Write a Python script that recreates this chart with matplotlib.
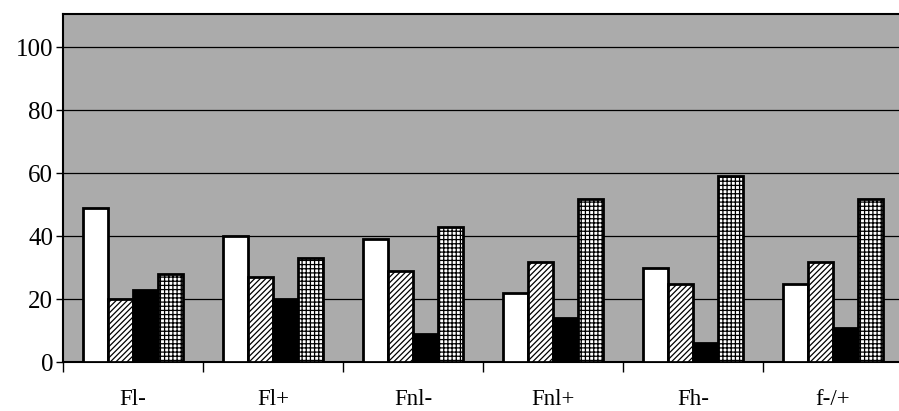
import matplotlib
matplotlib.use("Agg")
import matplotlib.pyplot as plt
import numpy as np

categories = ["Fl-", "Fl+", "Fnl-", "Fnl+", "Fh-", "f-/+"]
series_white = [49, 40, 39, 22, 30, 25]
series_diag = [20, 27, 29, 32, 25, 32]
series_black = [23, 20, 9, 14, 6, 11]
series_grid = [28, 33, 43, 52, 59, 52]
yticks = [0, 20, 40, 60, 80, 100]

plt.rcParams['font.family'] = ['Liberation Serif', 'DejaVu Serif']
plt.rcParams['hatch.linewidth'] = 0.9

fig = plt.figure(figsize=(8.99, 4.11), dpi=100)
W, H = 899, 411
left_px, right_px, top_px, bot_px = 63, 903, 14, 362.3
ax = fig.add_axes([left_px / W, (H - bot_px) / H, (right_px - left_px) / W, (bot_px - top_px) / H])
ax.set_facecolor('#ababab')

x = np.arange(len(categories))
bw = 0.18
offsets = [-1.5 * bw, -0.5 * bw, 0.5 * bw, 1.5 * bw]
styles = [
    dict(facecolor='white', hatch=None),
    dict(facecolor='white', hatch='//////'),
    dict(facecolor='black', hatch=None),
    dict(facecolor='white', hatch='++++'),
]
for vals, off, st in zip([series_white, series_diag, series_black, series_grid], offsets, styles):
    ax.bar(x + off, vals, width=bw, facecolor=st['facecolor'], edgecolor='black',
           hatch=st['hatch'], linewidth=2.0, zorder=3)

ax.set_xlim(-0.5, len(categories) - 0.5)
ax.set_ylim(0, 110.6)
ax.set_yticks(yticks)
ax.set_yticklabels([str(v) for v in yticks], fontsize=18, family='Liberation Serif')
ax.yaxis.grid(True, color='black', linewidth=0.9, zorder=1)
ax.set_axisbelow(True)

ax.set_xticks(x)
ax.set_xticklabels(categories, fontsize=16.5, family='Liberation Serif')
ax.tick_params(axis='x', length=0, pad=19)
ax.set_xticks(np.arange(len(categories) + 1) - 0.5, minor=True)
ax.tick_params(axis='x', which='minor', length=7, width=1, direction='out')
ax.tick_params(axis='y', length=5, width=1, direction='out', pad=2)

for s in ['left', 'bottom', 'top']:
    ax.spines[s].set_color('black')
    ax.spines[s].set_linewidth(1.5)
ax.spines['right'].set_visible(False)

fig.savefig('out.png', dpi=100)
